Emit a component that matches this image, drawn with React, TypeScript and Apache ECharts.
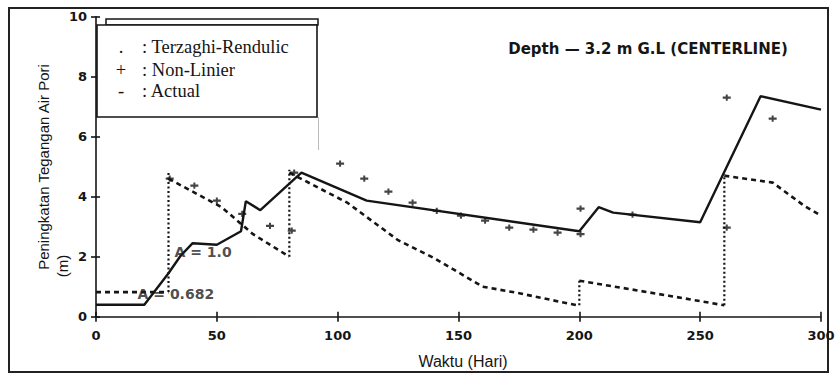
import React, { useEffect, useRef } from "react";
import * as echarts from "echarts";

// ---- data ----
const xTickLabels = ["0", "50", "100", "150", "200", "250", "300"];
const yTickLabels = ["0", "2", "4", "6", "8", "10"];

const actualX = [0, 20, 30, 35, 40, 50, 60, 62, 68, 85, 112, 200, 208, 214, 250, 275, 300];
const actualY = [0.4, 0.4, 1.45, 2.03, 2.45, 2.4, 2.85, 3.85, 3.55, 4.8, 3.87, 2.85, 3.65, 3.47, 3.15, 7.35, 6.9];

// Terzaghi-Rendulic, dashed segments
const terzSeg1 = [[0, 0.82], [30, 0.82]];
const terzSeg2 = [[30, 4.6], [52, 3.65], [65, 2.75], [80, 2.0]];
const terzSeg3 = [[80, 4.8], [104, 3.8], [125, 2.55], [140, 1.95], [160, 1.0], [174, 0.8], [199, 0.38]];
const terzSeg4 = [[200, 1.2], [217, 0.97], [237, 0.7], [260, 0.38]];
const terzSeg5 = [[260, 4.7], [280, 4.47], [293, 3.7], [300, 3.37]];
// dotted vertical jumps
const jump1 = [[30, 0.82], [30, 4.85]];
const jump2 = [[80, 2.0], [80, 4.9]];
const jump3 = [[200, 0.38], [200, 1.2]];
const jump4 = [[260, 0.38], [260, 4.75]];

// Non-Linier (+)
const nonLinX = [30.5, 40.7, 50, 60.5, 72, 81, 82, 101, 111, 121, 131, 141, 151, 161, 171, 181, 191, 200.5, 200.5, 222, 261, 261, 280, 300.5];
const nonLinY = [4.6, 4.37, 3.87, 3.43, 3.03, 2.87, 4.8, 5.1, 4.6, 4.17, 3.8, 3.53, 3.37, 3.2, 2.97, 2.9, 2.8, 3.6, 2.75, 3.4, 7.3, 2.97, 6.6, 5.67];

const annotX = [32.5, 17.2];
const annotY = [2.17, 0.75];
const annotText = ["A = 1.0", "A = 0.682"];

const legendSymbols = [".", "+", "-"];
const legendNames = [": Terzaghi-Rendulic", ": Non-Linier", ": Actual"];

const titleText = "Depth \u2014 3.2 m G.L (CENTERLINE)";
const yTitle = "Peningkatan Tegangan Air Pori";
const yUnit = "(m)";
const xTitle = "Waktu (Hari)";

const INK = "#151515";

export default function App() {
  const ref = useRef<HTMLDivElement>(null);

  useEffect(() => {
    if (!ref.current) return;
    const chart = echarts.init(ref.current, null, { renderer: "svg" });

    const tickFont = {
      color: INK,
      fontFamily: "DejaVu Sans",
      fontWeight: "bold" as const,
      fontSize: 13,
    };

    const dashSeg = (d: number[][]) => ({
      type: "line",
      data: d,
      symbol: "none",
      silent: true,
      lineStyle: { color: INK, width: 2.6, type: [5, 4] },
      z: 3,
    });
    const dotSeg = (d: number[][]) => ({
      type: "line",
      data: d,
      symbol: "none",
      silent: true,
      lineStyle: { color: INK, width: 2.2, type: [2, 2.5] },
      z: 3,
    });

    const legendYs = [47, 69.5, 90.5];
    const legendGraphics: any[] = [];
    legendSymbols.forEach((s, i) => {
      legendGraphics.push({
        type: "text",
        x: 121,
        y: legendYs[i],
        z: 20,
        silent: true,
        style: {
          text: s,
          font: "18.5px 'Liberation Serif'",
          fill: INK,
          textAlign: "center",
          textVerticalAlign: "middle",
        },
      });
      legendGraphics.push({
        type: "text",
        x: 142,
        y: legendYs[i],
        z: 20,
        silent: true,
        style: {
          text: legendNames[i],
          font: "18.5px 'Liberation Serif'",
          fill: INK,
          textAlign: "left",
          textVerticalAlign: "middle",
        },
      });
    });

    chart.setOption({
      animation: false,
      backgroundColor: "#ffffff",
      grid: { left: 96, right: 17, top: 16.7, bottom: 58.3, containLabel: false },
      xAxis: [
        {
          type: "value",
          min: 0,
          max: 300,
          interval: 50,
          axisLine: { show: true, lineStyle: { color: INK, width: 1.6 } },
          axisTick: { show: true, length: 5, lineStyle: { color: INK, width: 1.6 } },
          axisLabel: {
            ...tickFont,
            margin: 12,
            formatter: (v: number) => xTickLabels[Math.round(v / 50)] ?? "",
          },
          splitLine: { show: false },
        },
        {
          type: "value",
          min: 0,
          max: 300,
          interval: 50,
          position: "bottom",
          axisLine: { show: false },
          axisTick: { show: true, inside: true, length: 5, lineStyle: { color: INK, width: 1.6 } },
          axisLabel: { show: false },
          splitLine: { show: false },
        },
      ],
      yAxis: [
        {
          type: "value",
          min: 0,
          max: 10,
          interval: 2,
          axisLine: { show: true, lineStyle: { color: INK, width: 1.6 } },
          axisTick: { show: true, length: 5, lineStyle: { color: INK, width: 1.6 } },
          axisLabel: {
            ...tickFont,
            margin: 9,
            formatter: (v: number) => yTickLabels[Math.round(v / 2)] ?? "",
          },
          splitLine: { show: false },
        },
        {
          type: "value",
          min: 0,
          max: 10,
          interval: 2,
          position: "left",
          axisLine: { show: false },
          axisTick: { show: true, inside: true, length: 4, lineStyle: { color: INK, width: 1.6 } },
          axisLabel: { show: false },
          splitLine: { show: false },
        },
      ],
      series: [
        {
          type: "line",
          name: "Actual",
          data: actualX.map((x, i) => [x, actualY[i]]),
          symbol: "none",
          silent: true,
          lineStyle: { color: INK, width: 2.4 },
          z: 4,
        },
        dashSeg(terzSeg1),
        dashSeg(terzSeg2),
        dashSeg(terzSeg3),
        dashSeg(terzSeg4),
        dashSeg(terzSeg5),
        dotSeg(jump1),
        dotSeg(jump2),
        dotSeg(jump3),
        dotSeg(jump4),
        {
          type: "scatter",
          name: "Non-Linier",
          data: nonLinX.map((x, i) => [x, nonLinY[i]]),
          symbol: "path://M0,2H8V4.2H0Z M3,0H5V6.2H3Z",
          symbolSize: [8, 6.2],
          itemStyle: { color: INK },
          silent: true,
          z: 5,
        },
        {
          type: "scatter",
          data: annotX.map((x, i) => [x, annotY[i]]),
          symbolSize: 0,
          silent: true,
          label: {
            show: true,
            position: "right",
            distance: 0,
            formatter: (p: any) => annotText[p.dataIndex],
            color: "#202020",
            fontFamily: "DejaVu Sans",
            fontWeight: "bold",
            fontSize: 14,
          },
          z: 6,
        },
      ],
      graphic: [
        {
          type: "rect",
          shape: { x: 9, y: 8, width: 819, height: 364 },
          style: { fill: "none", stroke: "#222", lineWidth: 2 },
          silent: true,
        },
        {
          type: "rect",
          shape: { x: 106, y: 19, width: 212, height: 6 },
          style: { fill: "#fff", stroke: INK, lineWidth: 1.5 },
          silent: true,
          z: 10,
        },
        {
          type: "rect",
          shape: { x: 97, y: 25, width: 220, height: 92 },
          style: { fill: "#fff", stroke: INK, lineWidth: 1.6 },
          silent: true,
          z: 10,
        },
        {
          type: "line",
          shape: { x1: 318.5, y1: 117, x2: 318.5, y2: 150 },
          style: { stroke: "#bbb", lineWidth: 1 },
          silent: true,
        },
        ...legendGraphics,
        {
          type: "text",
          x: 648,
          y: 49,
          silent: true,
          style: {
            text: titleText,
            font: "bold 15px 'DejaVu Sans'",
            fill: INK,
            textAlign: "center",
            textVerticalAlign: "middle",
          },
        },
        {
          type: "text",
          x: 43,
          y: 167,
          rotation: Math.PI / 2,
          silent: true,
          style: {
            text: yTitle,
            font: "15px 'Liberation Sans'",
            fill: INK,
            textAlign: "center",
            textVerticalAlign: "middle",
          },
        },
        {
          type: "text",
          x: 62,
          y: 266,
          rotation: Math.PI / 2,
          silent: true,
          style: {
            text: yUnit,
            font: "15px 'Liberation Sans'",
            fill: INK,
            textAlign: "center",
            textVerticalAlign: "middle",
          },
        },
        {
          type: "text",
          x: 463,
          y: 361,
          silent: true,
          style: {
            text: xTitle,
            font: "16px 'Liberation Sans'",
            fill: INK,
            textAlign: "center",
            textVerticalAlign: "middle",
          },
        },
      ],
    });

    return () => chart.dispose();
  }, []);

  return (
    <div
      ref={ref}
      style={{ position: "absolute", left: 0, top: 0, width: 838, height: 375, background: "#fff" }}
    />
  );
}
